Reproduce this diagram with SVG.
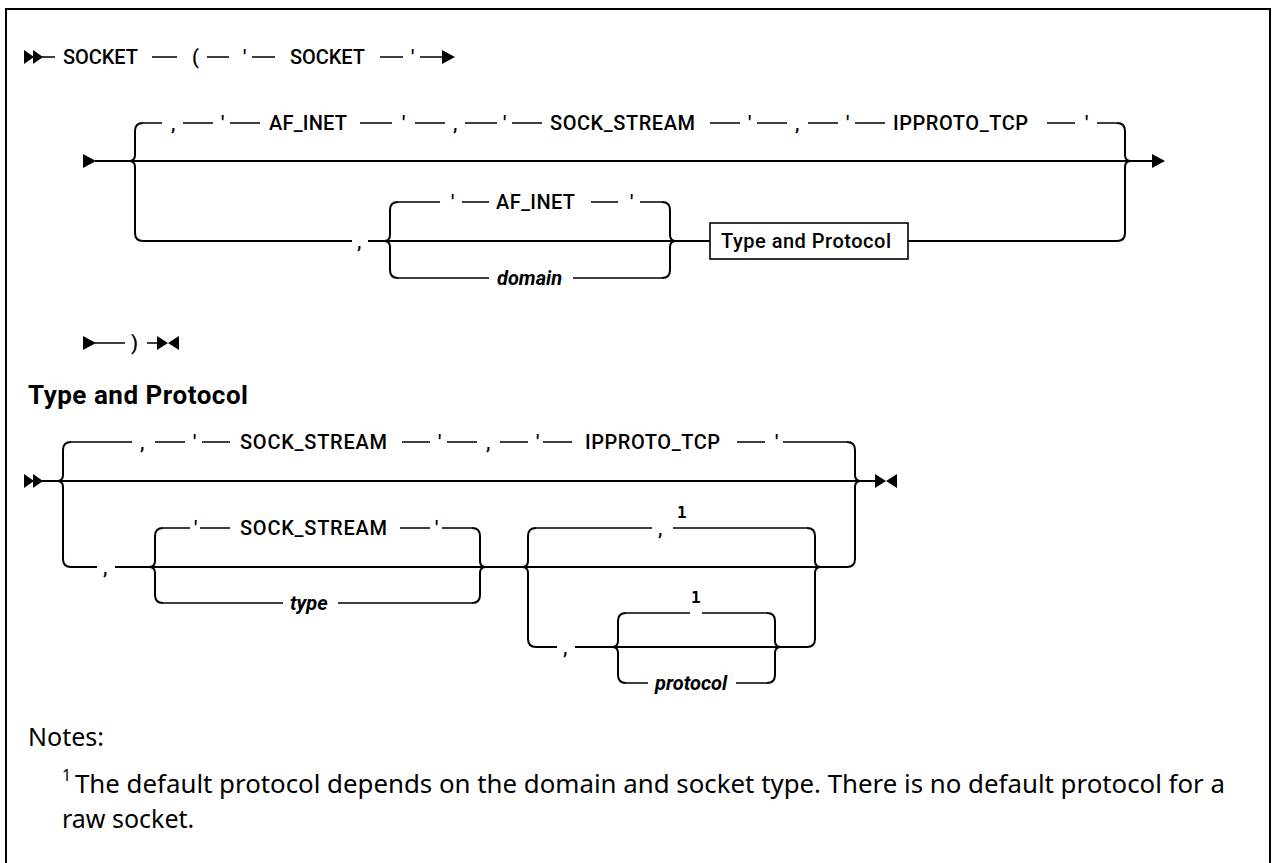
<svg xmlns="http://www.w3.org/2000/svg" width="1274" height="863" viewBox="0 0 1274 863">
<style>
.ln{fill:none;stroke:#000;stroke-width:2}
.d{fill:none;stroke:#000;stroke-width:1.6}
.ah{fill:#000;stroke:none}
text{font-family:Roboto,"Liberation Sans",sans-serif;fill:#000}
.t{font-size:20px;font-weight:500}
.i{font-size:20px;font-style:italic;font-weight:bold}
.s{font-family:"DejaVu Sans Mono","Liberation Mono",monospace;font-size:16px;font-weight:bold}
.h{font-size:26px;font-weight:bold}
.n{font-family:"Noto Sans","Open Sans",sans-serif;font-size:25px}
.ns{font-family:"Noto Sans","Open Sans",sans-serif;font-size:16px}
.box{fill:#fff;stroke:#000;stroke-width:1.6}
</style>
<rect x="6" y="9" width="1264" height="870" fill="#fff" stroke="#000" stroke-width="2"/>

<g id="connectors">
  <!-- row 1 -->
  <path class="ah" d="M24,50 L34,57 L24,64 Z M33,50 L43,57 L33,64 Z"/>
  <path class="d" d="M42,57 H55 M152,57 H177 M207,57 H229 M252,57 H275 M380,57 H403 M420,57 H445"/>
  <path class="ah" d="M442,50 L455,57 L442,64 Z"/>

  <!-- section 1 -->
  <path class="ah" d="M83,154 L96,161 L83,168 Z"/>
  <path class="ln" d="M95,161 H1155"/>
  <path class="ah" d="M1152,154 L1165,161 L1152,168 Z"/>
  <path class="ln" d="M143,123 Q135,123 135,131 L135,155 Q135,161 129,161 M129,161 Q135,161 135,167 L135,233 Q135,241 143,241"/>
  <path class="ln" d="M1117,123 Q1125,123 1125,131 L1125,155 Q1125,161 1131,161 M1131,161 Q1125,161 1125,167 L1125,233 Q1125,241 1117,241"/>
  <path class="d" d="M143,123 H162 M183,123 H213 M230,123 H260 M360,123 H392 M415,123 H445 M465,123 H497 M512,123 H542 M710,123 H740 M757,123 H787 M808,123 H838 M855,123 H885 M1047,123 H1075 M1097,123 H1117"/>
  <path class="ln" d="M143,241 H352 M368,241 H710 M908,241 H1117"/>
  <path class="ln" d="M398,202 Q390,202 390,210 L390,235 Q390,241 384,241 M384,241 Q390,241 390,247 L390,270 Q390,278 398,278"/>
  <path class="ln" d="M662,202 Q670,202 670,210 L670,235 Q670,241 676,241 M676,241 Q670,241 670,247 L670,270 Q670,278 662,278"/>
  <path class="d" d="M398,202 H440 M462,202 H489 M591,202 H618 M640,202 H662 M398,278 H489 M573,278 H662"/>

  <!-- continuation row -->
  <path class="ah" d="M83,336 L96,343 L83,350 Z"/>
  <path class="d" d="M95,343 H125 M147,343 H160"/>
  <path class="ah" d="M157,336 L168,343 L157,350 Z M179,336 L168,343 L179,350 Z"/>

  <!-- Type and Protocol section -->
  <path class="ah" d="M24,474 L34,481 L24,488 Z M33,474 L43,481 L33,488 Z"/>
  <path class="ln" d="M42,481 H875"/>
  <path class="ah" d="M875,474 L886,481 L875,488 Z M897,474 L886,481 L897,488 Z"/>
  <path class="ln" d="M71,442 Q63,442 63,450 L63,475 Q63,481 57,481 M57,481 Q63,481 63,487 L63,559 Q63,567 71,567"/>
  <path class="ln" d="M847,442 Q855,442 855,450 L855,475 Q855,481 861,481 M861,481 Q855,481 855,487 L855,559 Q855,567 847,567"/>
  <path class="d" d="M71,442 H132 M155,442 H185 M202,442 H230 M402,442 H430 M447,442 H477 M500,442 H528 M543,442 H572 M737,442 H765 M783,442 H847"/>
  <path class="ln" d="M71,567 H97 M115,567 H847"/>
  <path class="ln" d="M163,528 Q155,528 155,536 L155,561 Q155,567 149,567 M149,567 Q155,567 155,573 L155,595 Q155,603 163,603"/>
  <path class="ln" d="M472,528 Q480,528 480,536 L480,561 Q480,567 486,567 M486,567 Q480,567 480,573 L480,595 Q480,603 472,603"/>
  <path class="d" d="M163,528 H190 M200,528 H230 M400,528 H430 M442,528 H472 M163,603 H283 M338,603 H472"/>
  <path class="ln" d="M536,528 Q528,528 528,536 L528,561 Q528,567 522,567 M522,567 Q528,567 528,573 L528,639 Q528,647 536,647"/>
  <path class="ln" d="M807,528 Q815,528 815,536 L815,561 Q815,567 821,567 M821,567 Q815,567 815,573 L815,639 Q815,647 807,647"/>
  <path class="d" d="M536,528 H652 M673,528 H807"/>
  <path class="ln" d="M536,647 H557 M575,647 H807"/>
  <path class="ln" d="M626,613 Q618,613 618,621 L618,641 Q618,647 612,647 M612,647 Q618,647 618,653 L618,675 Q618,683 626,683"/>
  <path class="ln" d="M767,613 Q775,613 775,621 L775,641 Q775,647 781,647 M781,647 Q775,647 775,653 L775,675 Q775,683 767,683"/>
  <path class="d" d="M626,613 H690 M702,613 H767 M626,683 H648 M736,683 H767"/>
</g>

<!-- row 1 nodes -->
<g id="n-socket1"><text class="t" x="63" y="64" textLength="75">SOCKET</text></g>
<g id="n-lparen"><text class="t" x="192" y="64">(</text></g>
<g id="n-q1"><text class="t" x="243" y="64">'</text></g>
<g id="n-socket2"><text class="t" x="290" y="64" textLength="75">SOCKET</text></g>
<g id="n-q2"><text class="t" x="411" y="64">'</text></g>

<!-- section 1 top branch -->
<g id="n-c1"><text class="t" x="171" y="130">,</text></g>
<g id="n-q3"><text class="t" x="221" y="130">'</text></g>
<g id="n-afinet1"><text class="t" x="269" y="130" textLength="78">AF_INET</text></g>
<g id="n-q4"><text class="t" x="402" y="130">'</text></g>
<g id="n-c2"><text class="t" x="453" y="130">,</text></g>
<g id="n-q5"><text class="t" x="503" y="130">'</text></g>
<g id="n-sockstream1"><text class="t" x="550" y="130" textLength="145">SOCK_STREAM</text></g>
<g id="n-q6"><text class="t" x="748" y="130">'</text></g>
<g id="n-c3"><text class="t" x="795" y="130">,</text></g>
<g id="n-q7"><text class="t" x="846" y="130">'</text></g>
<g id="n-ipproto1"><text class="t" x="893" y="130" textLength="135">IPPROTO_TCP</text></g>
<g id="n-q8"><text class="t" x="1085" y="130">'</text></g>

<!-- section 1 bottom branch -->
<g id="n-c4"><text class="t" x="357" y="248">,</text></g>
<g id="n-q9"><text class="t" x="451" y="209">'</text></g>
<g id="n-afinet2"><text class="t" x="496" y="209" textLength="79">AF_INET</text></g>
<g id="n-q10"><text class="t" x="630" y="209">'</text></g>
<g id="n-domain"><text class="i" x="497" y="285">domain</text></g>
<g id="n-typeproto-ref"><rect class="box" x="710" y="223" width="198" height="36"/><text class="t" x="721" y="248" textLength="170">Type and Protocol</text></g>

<!-- continuation -->
<g id="n-rparen"><text class="t" x="131" y="350">)</text></g>

<g id="n-heading"><text class="h" x="28" y="404" textLength="220">Type and Protocol</text></g>

<!-- T&P top -->
<g id="n-c5"><text class="t" x="140" y="449">,</text></g>
<g id="n-q11"><text class="t" x="193" y="449">'</text></g>
<g id="n-sockstream2"><text class="t" x="240" y="449" textLength="147">SOCK_STREAM</text></g>
<g id="n-q12"><text class="t" x="438" y="449">'</text></g>
<g id="n-c6"><text class="t" x="486" y="449">,</text></g>
<g id="n-q13"><text class="t" x="536" y="449">'</text></g>
<g id="n-ipproto2"><text class="t" x="585" y="449" textLength="135">IPPROTO_TCP</text></g>
<g id="n-q14"><text class="t" x="775" y="449">'</text></g>

<!-- T&P bottom -->
<g id="n-c7"><text class="t" x="103" y="574">,</text></g>
<g id="n-q15"><text class="t" x="194" y="535">'</text></g>
<g id="n-sockstream3"><text class="t" x="240" y="535" textLength="147">SOCK_STREAM</text></g>
<g id="n-q16"><text class="t" x="435" y="535">'</text></g>
<g id="n-type"><text class="i" x="290" y="610">type</text></g>
<g id="n-c8"><text class="t" x="658" y="535">,</text><text class="s" x="677" y="518">1</text></g>
<g id="n-c9"><text class="t" x="563" y="654">,</text></g>
<g id="n-one"><text class="s" x="691" y="603">1</text></g>
<g id="n-protocol"><text class="i" x="655" y="690">protocol</text></g>

<!-- notes -->
<g id="notes">
<text class="n" x="28" y="746">Notes:</text>
<text class="ns" x="62" y="781">1</text>
<text class="n" x="75" y="793" textLength="1150" lengthAdjust="spacingAndGlyphs">The default protocol depends on the domain and socket type. There is no default protocol for a</text>
<text class="n" x="62" y="828">raw socket.</text>
</g>
</svg>
